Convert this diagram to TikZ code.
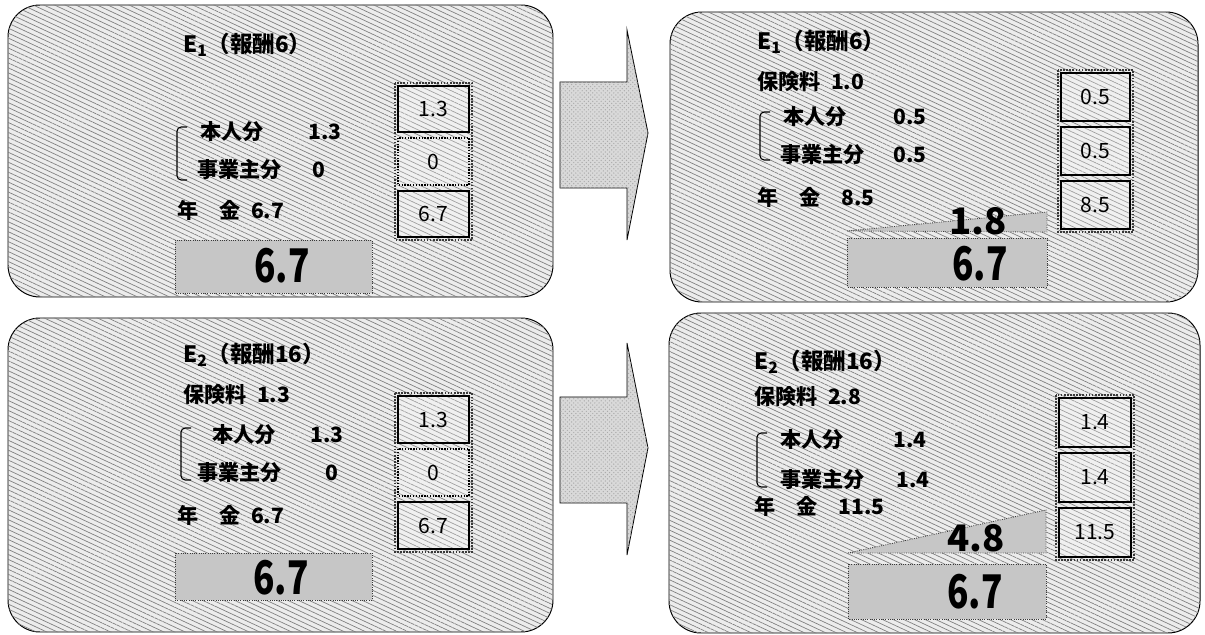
\documentclass[tikz,border=0pt]{standalone}
\usepackage{fontspec}
\setmainfont{Noto Sans CJK JP}
\usepackage{graphicx}
\usetikzlibrary{patterns,patterns.meta}
\newcommand{\narrownum}[1]{\scalebox{0.76}[1]{#1}}

\begin{document}
\begin{tikzpicture}[x=0.025cm, y=-0.025cm,
    panel/.style={draw=black, line width=0.7pt, rounded corners=0.8cm, fill=gray!15,
                  postaction={pattern={Lines[angle=-25,distance=3.2pt,line width=0.5pt]},
                              pattern color=gray}},
    txt/.style={anchor=west, inner sep=0pt, font=\fontsize{15pt}{18pt}\selectfont\bfseries},
    ttl/.style={txt, font=\fontsize{16pt}{19pt}\selectfont\bfseries},
    brk/.style={draw=black, line width=0.8pt, rounded corners=3pt},
    stackedge/.style={draw=gray!45!black, densely dotted, line width=1.2pt},
    cell/.style={draw=black, line width=1pt, fill=white, fill opacity=0.25},
    softcell/.style={draw=black, densely dotted, line width=1pt, fill=white, fill opacity=0.25},
    cellnum/.style={inner sep=0pt, font=\fontsize{15pt}{18pt}\selectfont},
    basebox/.style={draw=gray!45!black, densely dotted, line width=0.6pt, fill=gray!45},
    bignum/.style={inner sep=0pt, font=\fontsize{33pt}{36pt}\selectfont\bfseries},
    risenum/.style={inner sep=0pt, font=\fontsize{26pt}{29pt}\selectfont\bfseries},
    jump/.style={draw=black, line width=0.6pt, fill=gray!30,
                 postaction={pattern=crosshatch dots, pattern color=gray!65}}]
  \useasboundingbox (0,0) rectangle (1205,635);

  % upper left: E1 before
  \draw[panel] (8,5) rectangle (553,297);
  \node[ttl] (tl-title) at (183,45) {E\textsubscript{1}（報酬6）};
  \draw[brk] (187,127) -- (177,127) -- (177,180) -- (187,180);
  \node[txt] (tl-own) at (200,132) {本人分};
  \node[txt] (tl-ownv) at (308,132) {1.3};
  \node[txt] (tl-emp) at (197,170) {事業主分};
  \node[txt] (tl-empv) at (312,170) {0};
  \node[txt] (tl-pen) at (177,210) {年\quad 金\enspace 6.7};
  \draw[basebox] (175,240) rectangle (372,293);
  \node[bignum] (tl-base) at (282,266) {\narrownum{6.7}};
  \draw[stackedge] (395,83) rectangle (472,240);
  \foreach \t/\b/\v/\s [count=\i] in {83/135/1.3/cell, 135/188/0/softcell, 188/240/6.7/cell}{
    \draw[\s] (398,\t+3) rectangle (469,\b-3);
    \node[cellnum] (tl-c\i) at (433.5,{(\t+\b)/2}) {\v};
  }

  % lower left: E2 before
  \draw[panel] (8,318) rectangle (553,632);
  \node[ttl] (bl-title) at (183,355) {E\textsubscript{2}（報酬16）};
  \node[txt] (bl-fee) at (183,395) {保険料\enspace 1.3};
  \draw[brk] (191,428) -- (181,428) -- (181,480) -- (191,480);
  \node[txt] (bl-own) at (212,435) {本人分};
  \node[txt] (bl-ownv) at (310,435) {1.3};
  \node[txt] (bl-emp) at (197,473) {事業主分};
  \node[txt] (bl-empv) at (325,473) {0};
  \node[txt] (bl-pen) at (177,515) {年\quad 金\enspace 6.7};
  \draw[basebox] (175,553) rectangle (372,600);
  \node[bignum] (bl-base) at (281,578) {\narrownum{6.7}};
  \draw[stackedge] (395,393) rectangle (472,552);
  \foreach \t/\b/\v/\s [count=\i] in {393/446/1.3/cell, 446/499/0/softcell, 499/552/6.7/cell}{
    \draw[\s] (398,\t+3) rectangle (469,\b-3);
    \node[cellnum] (bl-c\i) at (433.5,{(\t+\b)/2}) {\v};
  }

  % arrows
  \draw[jump] (560,82) -- (627,82) -- (627,30) -- (648,133) -- (627,240)
    -- (627,188) -- (560,188) -- cycle;
  \draw[jump] (560,397) -- (627,397) -- (627,343) -- (648,448) -- (627,555)
    -- (627,503) -- (560,503) -- cycle;

  % upper right: E1 after
  \draw[panel] (670,12) rectangle (1198,302);
  \node[ttl] (tr-title) at (757,42) {E\textsubscript{1}（報酬6）};
  \node[txt] (tr-fee) at (757,82) {保険料\enspace 1.0};
  \draw[brk] (770,112) -- (760,112) -- (760,160) -- (770,160);
  \node[txt] (tr-own) at (783,117) {本人分};
  \node[txt] (tr-ownv) at (893,117) {0.5};
  \node[txt] (tr-emp) at (780,155) {事業主分};
  \node[txt] (tr-empv) at (893,155) {0.5};
  \node[txt] (tr-pen) at (757,197) {年\quad 金\quad 8.5};
  \draw[basebox] (847,231) -- (1047,212) -- (1047,232) -- cycle;
  \node[risenum] (tr-rise) at (978,221) {1.8};
  \draw[basebox] (847,238) rectangle (1047,287);
  \node[bignum] (tr-base) at (980,264) {\narrownum{6.7}};
  \draw[stackedge] (1058,70) rectangle (1133,232);
  \foreach \t/\b/\v [count=\i] in {70/124/0.5, 124/178/0.5, 178/232/8.5}{
    \draw[cell] (1061,\t+3) rectangle (1130,\b-3);
    \node[cellnum] (tr-c\i) at (1095.5,{(\t+\b)/2}) {\v};
  }

  % lower right: E2 after
  \draw[panel] (669,313) rectangle (1200,633);
  \node[ttl] (br-title) at (754,362) {E\textsubscript{2}（報酬16）};
  \node[txt] (br-fee) at (754,397) {保険料\enspace 2.8};
  \draw[brk] (767,433) -- (757,433) -- (757,487) -- (767,487);
  \node[txt] (br-own) at (780,440) {本人分};
  \node[txt] (br-ownv) at (893,440) {1.4};
  \node[txt] (br-emp) at (780,480) {事業主分};
  \node[txt] (br-empv) at (896,480) {1.4};
  \node[txt] (br-pen) at (754,506) {年\quad 金\quad 11.5};
  \draw[basebox] (848,553) -- (1046,510) -- (1046,553) -- cycle;
  \node[risenum] (br-rise) at (976,538) {4.8};
  \draw[basebox] (848,564) rectangle (1046,619);
  \node[bignum] (br-base) at (975,592) {\narrownum{6.7}};
  \draw[stackedge] (1056,395) rectangle (1134,560);
  \foreach \t/\b/\v [count=\i] in {395/450/1.4, 450/505/1.4, 505/560/11.5}{
    \draw[cell] (1059,\t+3) rectangle (1131,\b-3);
    \node[cellnum] (br-c\i) at (1095,{(\t+\b)/2}) {\v};
  }
\end{tikzpicture}
\end{document}
